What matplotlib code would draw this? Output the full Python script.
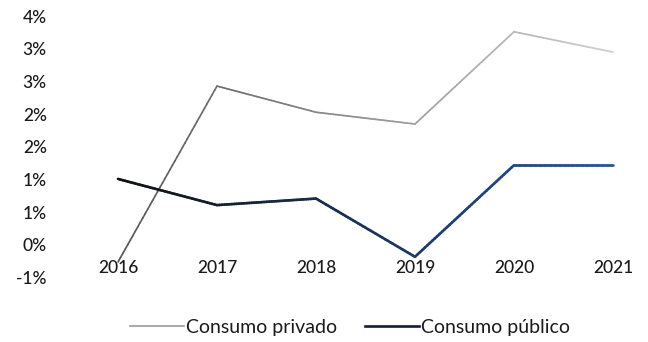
import math
import numpy as np
import matplotlib
matplotlib.use("Agg")
import matplotlib.pyplot as plt
from matplotlib.collections import LineCollection
from matplotlib.colors import to_rgb
from matplotlib.lines import Line2D
from matplotlib.ticker import FuncFormatter

plt.rcParams['font.family'] = ['Lato', 'DejaVu Sans']

years = ["2016", "2017", "2018", "2019", "2020", "2021"]
consumo_privado = [-0.26, 2.43, 2.03, 1.85, 3.26, 2.95]
consumo_publico = [1.01, 0.61, 0.71, -0.18, 1.22, 1.22]

W, H = 648, 342
fig = plt.figure(figsize=(W / 100, H / 100), dpi=100)
fig.patch.set_facecolor("white")

# axes placed in pixel terms
left_px, right_px, top_px, bottom_px = 60, 648, 10, 292
ax = fig.add_axes([left_px / W, 1 - bottom_px / H,
                   (right_px - left_px) / W, (bottom_px - top_px) / H])
ax.set_facecolor("white")

x0_px, dx_px = 118, 99
y0_px, dy_px = 245, 65.4
ax.set_xlim((left_px - x0_px) / dx_px, (right_px - x0_px) / dx_px)
ax.set_ylim((y0_px - bottom_px) / dy_px, (y0_px - top_px) / dy_px)


def gradient_line(ax, xs, ys, c_start, c_end, lw, n=40):
    xs = np.asarray(xs, float)
    ys = np.asarray(ys, float)
    segs, cols = [], []
    c0, c1 = np.array(to_rgb(c_start)), np.array(to_rgb(c_end))
    total = len(xs) - 1
    for i in range(total):
        t = np.linspace(0, 1, n + 1)
        px = xs[i] + (xs[i + 1] - xs[i]) * t
        py = ys[i] + (ys[i + 1] - ys[i]) * t
        for k in range(n):
            segs.append([(px[k], py[k]), (px[k + 1], py[k + 1])])
            f = (i + (k + 0.5) / n) / total
            cols.append(c0 + (c1 - c0) * f)
    lc = LineCollection(segs, colors=cols, linewidths=lw,
                        capstyle="round", joinstyle="round")
    ax.add_collection(lc)


xi = np.arange(len(years))
gradient_line(ax, xi, consumo_privado, "#555555", "#d0d0d0", 1.2)
gradient_line(ax, xi, consumo_publico, "#111111", "#1f55b0", 1.9)

for s in ["left", "right", "top"]:
    ax.spines[s].set_visible(False)
ax.spines["bottom"].set_position(("data", 0))
ax.spines["bottom"].set_visible(False)


def pct(v, pos):
    r = math.floor(abs(v) + 0.5 + 1e-9)
    if v < 0 and r != 0:
        return f"-{r}%"
    return f"{r}%"


ax.set_yticks(np.arange(-0.5, 3.51, 0.5))
ax.yaxis.set_major_formatter(FuncFormatter(pct))
ax.tick_params(axis="y", length=0, pad=9.5, labelsize=12.5, labelcolor="#1a1a1a")

ax.set_xticks(xi)
ax.set_xticklabels(years)
ax.tick_params(axis="x", length=0, pad=11, labelsize=12.5, labelcolor="#1a1a1a")
for lbl in ax.get_xticklabels() + ax.get_yticklabels():
    lbl.set_fontweight("medium")

handles = [Line2D([], [], color="#9a9a9a", lw=1.2),
           Line2D([], [], color="#0f1c45", lw=1.9)]
fig.legend(handles, ["Consumo privado", "Consumo público"],
           loc="center", bbox_to_anchor=(350 / W, 1 - 327 / H),
           ncol=2, frameon=False, fontsize=14, handlelength=2.8,
           handletextpad=0.1, columnspacing=1.4, labelcolor="#1a1a1a")

fig.savefig("out.png", dpi=100)
